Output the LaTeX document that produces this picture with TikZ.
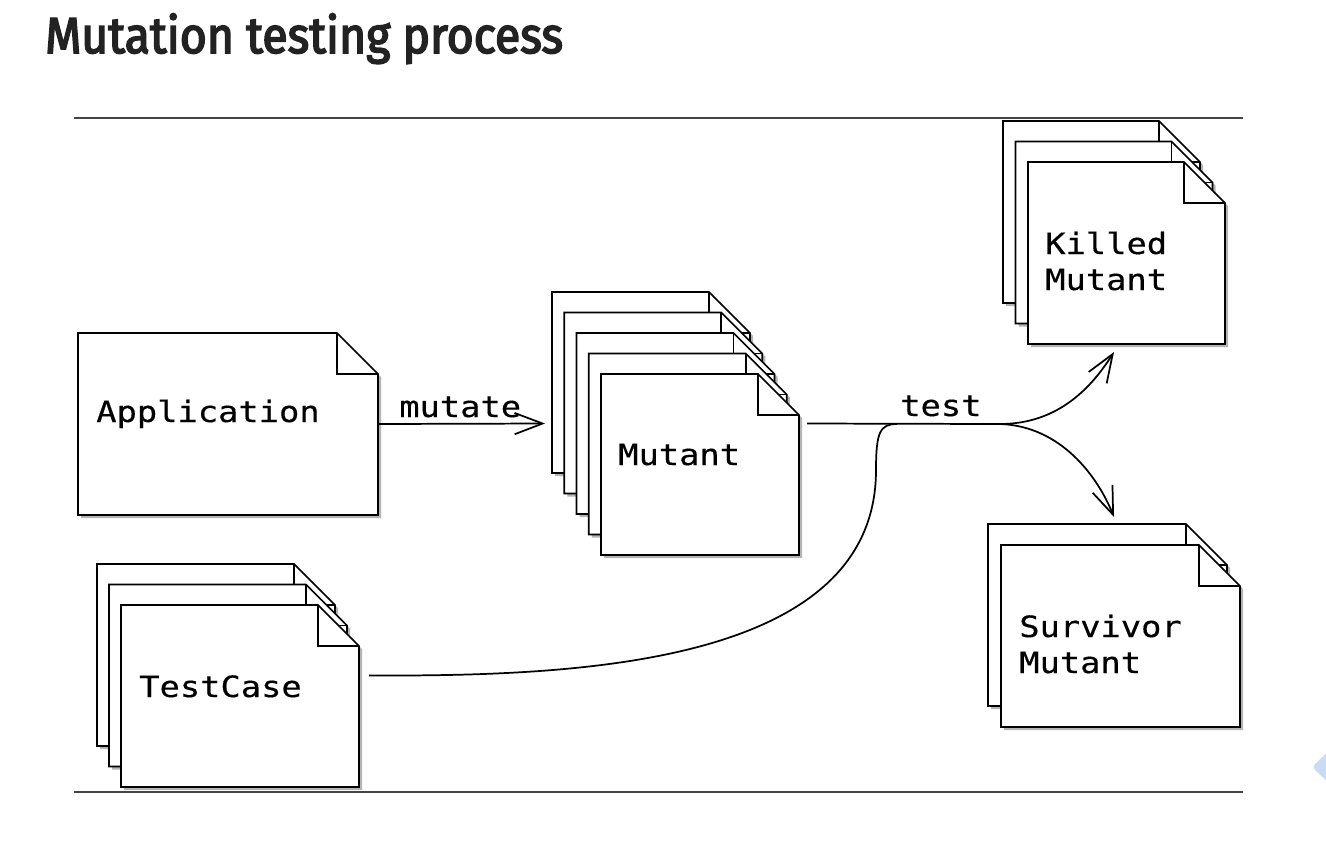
\documentclass[tikz,border=0pt]{standalone}
\usepackage{fontspec}
\usetikzlibrary{arrows.meta}
\newfontfamily\titlefont[FakeStretch=0.915,FakeBold=3.2]{Fira Sans}
\newfontfamily\monofont[FakeStretch=1.15,FakeBold=0.4]{DejaVu Sans Mono}
\definecolor{titlec}{HTML}{222222}
\definecolor{rulec}{HTML}{444444}
\definecolor{shadowc}{HTML}{B4B4B4}
\definecolor{bluec}{HTML}{C8DCF6}
\tikzset{
  pageline/.style={draw=black,line width=1.3pt,line join=miter},
  box/.style={inner sep=0pt,outer sep=0pt,draw=none},
  lbl/.style={inner sep=0pt,font=\monofont\fontsize{22pt}{27pt}\selectfont},
  conn/.style={draw=black,line width=1.3pt},
  arr/.style={-{Straight Barb[length=21pt,width=16pt]}},
  rule/.style={draw=rulec,line width=1.1pt},
}
\newcommand\docpage[4]{%
  \fill[shadowc] ({#1+3},{#2+3}) -- ++({#3-41},0) -- ++(41,41) -- ++(0,{#4-41}) -- ++({-(#3)},0) -- cycle;
  \filldraw[pageline,fill=white] (#1,#2) -- ++({#3-41},0) -- ++(41,41) -- ++(0,{#4-41}) -- ++({-(#3)},0) -- cycle;
  \draw[pageline] ({#1+#3-41},#2) -- ++(0,41) -- ++(41,0);
}
\begin{document}
\begin{tikzpicture}[x=0.75pt,y=-0.75pt]
\useasboundingbox (0,0) rectangle (1326,851);
\fill[white] (0,0) rectangle (1326,851);

% title
\node[anchor=base west,inner sep=0pt,text=titlec,font=\titlefont\fontsize{38pt}{40pt}\selectfont] (title) at (45,53) {Mutation testing process};

% rules
\draw[rule] (74,118) -- (1243,118);
\draw[rule] (74,792) -- (1243,792);

% Application
\docpage{78}{333}{300}{182}
\node[box,minimum width={300*0.75pt},minimum height={182*0.75pt}] (app) at (228,424) {};
\node[lbl,anchor=base west] (tapp) at (96,422) {Application};

% Mutant stack
\foreach \i in {0,...,4} {
  \pgfmathsetmacro\qx{552+12.25*\i}
  \pgfmathsetmacro\qy{292+20.5*\i}
  \docpage{\qx}{\qy}{198}{181}
}
\node[box,minimum width={247*0.75pt},minimum height={263*0.75pt}] (mstack) at (675.5,423.5) {};
\node[lbl,anchor=base west] (tmut) at (618,465) {Mutant};

% Killed stack
\foreach \i in {0,...,2} {
  \pgfmathsetmacro\qx{1003+12.5*\i}
  \pgfmathsetmacro\qy{121+20.5*\i}
  \docpage{\qx}{\qy}{197}{182}
}
\node[box,minimum width={222*0.75pt},minimum height={223*0.75pt}] (killed) at (1114,232.5) {};
\node[lbl,anchor=base west,align=left] (tkill) at (1045,290) {Killed\\Mutant};

% Survivor stack
\foreach \i in {0,...,1} {
  \pgfmathsetmacro\qx{988+13*\i}
  \pgfmathsetmacro\qy{524+21*\i}
  \docpage{\qx}{\qy}{239}{182}
}
\node[box,minimum width={252*0.75pt},minimum height={203*0.75pt}] (surv) at (1114,625.5) {};
\node[lbl,anchor=base west,align=left] (tsurv) at (1019,673) {Survivor\\Mutant};

% TestCase stack
\foreach \i in {0,...,2} {
  \pgfmathsetmacro\qx{97+12*\i}
  \pgfmathsetmacro\qy{564+20.5*\i}
  \docpage{\qx}{\qy}{238}{182}
}
\node[box,minimum width={262*0.75pt},minimum height={223*0.75pt}] (tc) at (228,675.5) {};
\node[lbl,anchor=base west] (ttc) at (139,697) {TestCase};

% connectors
\coordinate (J) at (1000,424);
\coordinate (M) at (897,424);
\draw[conn,arr] (app.east) -- ([xshift=-5.25pt]mstack.west);
\node[lbl,anchor=base west] (lmutate) at (399,417) {mutate};
\draw[conn] ([xshift=6pt]mstack.east) -- (J);
\node[lbl,anchor=base west] (ltest) at (900,416) {test};
\draw[conn,arr] (J) .. controls (1060,424) and (1093,385) .. ([yshift=-6pt]killed.south);
\draw[conn,arr] (J) .. controls (1060,426) and (1097,475) .. ([yshift=5.25pt]surv.north);
\draw[conn] ([xshift=7.5pt]tc.east) .. controls (560,676) and (876,670) .. (876,470) .. controls (876,432) and (880,424) .. (M);

% edge artifact
\fill[bluec,rounded corners=3pt] (1334,746) -- (1312,767) -- (1334,788) -- cycle;
\end{tikzpicture}
\end{document}
